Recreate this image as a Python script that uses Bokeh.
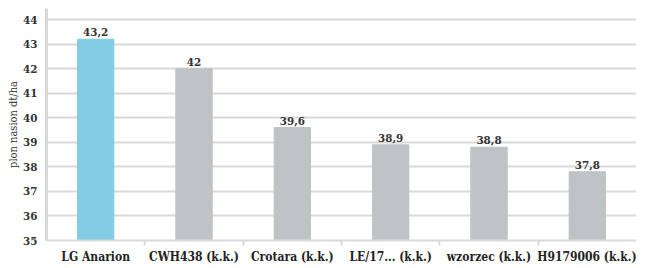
from bokeh.plotting import figure
from bokeh.models import ColumnDataSource, FixedTicker, Range1d
from bokeh.core.properties import value
from bokeh.embed import file_html
from bokeh.resources import INLINE

categories = ["LG Anarion", "CWH438 (k.k.)", "Crotara (k.k.)", "LE/17... (k.k.)", "wzorzec (k.k.)", "H9179006 (k.k.)"]
values = [43.2, 42.0, 39.6, 38.9, 38.8, 37.8]
bar_colors = ["#82CDE3", "#BEC3C6", "#BEC3C6", "#BEC3C6", "#BEC3C6", "#BEC3C6"]
y_ticks = [35, 36, 37, 38, 39, 40, 41, 42, 43, 44]

FONT = "DejaVu Serif Condensed"
n = len(categories)
xc = [i + 0.5 for i in range(n)]
labels = [f"{v:g}".replace(".", ",") for v in values]

src = ColumnDataSource(dict(x=xc, top=values, color=bar_colors, label=labels))

p = figure(width=636, height=266, output_backend="svg", toolbar_location=None,
           x_range=Range1d(0, n), y_range=Range1d(35, 44.45),
           min_border_left=46, min_border_right=0, min_border_top=8, min_border_bottom=26)
p.outline_line_color = None

p.vbar(x="x", top="top", bottom=35, width=0.37, color="color", source=src)
p.text(x="x", y="top", text="label", source=src, text_align="center", text_baseline="bottom",
       y_offset=-3, text_font=value(FONT), text_font_size="11.5px", text_font_style="bold",
       text_color="#333333")

# y axis
p.yaxis.ticker = FixedTicker(ticks=y_ticks)
p.yaxis.axis_line_color = "#D9D9D9"
p.yaxis.axis_line_width = 3
p.yaxis.major_tick_line_color = None
p.yaxis.minor_tick_line_color = None
p.yaxis.major_label_text_font = FONT
p.yaxis.major_label_text_font_size = "11.5px"
p.yaxis.major_label_text_font_style = "bold"
p.yaxis.major_label_text_color = "#333333"
p.yaxis.major_label_standoff = 3
p.yaxis.axis_label = "plon nasion dt/ha"
p.yaxis.axis_label_text_font = FONT
p.yaxis.axis_label_text_font_size = "11px"
p.yaxis.axis_label_text_font_style = "normal"
p.yaxis.axis_label_text_color = "#333333"
p.yaxis.axis_label_standoff = 0

# x axis
p.xaxis.ticker = FixedTicker(ticks=xc, minor_ticks=list(range(1, n)))
p.xaxis.major_label_overrides = {x: c for x, c in zip(xc, categories)}
p.xaxis.axis_line_color = "#D9D9D9"
p.xaxis.axis_line_width = 2
p.xaxis.major_tick_line_color = None
p.xaxis.minor_tick_line_color = "#D9D9D9"
p.xaxis.minor_tick_line_width = 2
p.xaxis.minor_tick_out = 5
p.xaxis.minor_tick_in = 0
p.xaxis.major_label_text_font = FONT
p.xaxis.major_label_text_font_size = "12px"
p.xaxis.major_label_text_font_style = "bold"
p.xaxis.major_label_text_color = "#222222"
p.xaxis.major_label_standoff = 3

p.xgrid.grid_line_color = None
p.ygrid.ticker = FixedTicker(ticks=y_ticks)
p.ygrid.grid_line_color = "#D9D9D9"
p.ygrid.grid_line_width = 2

open("out.html", "w").write(file_html(p, INLINE))
